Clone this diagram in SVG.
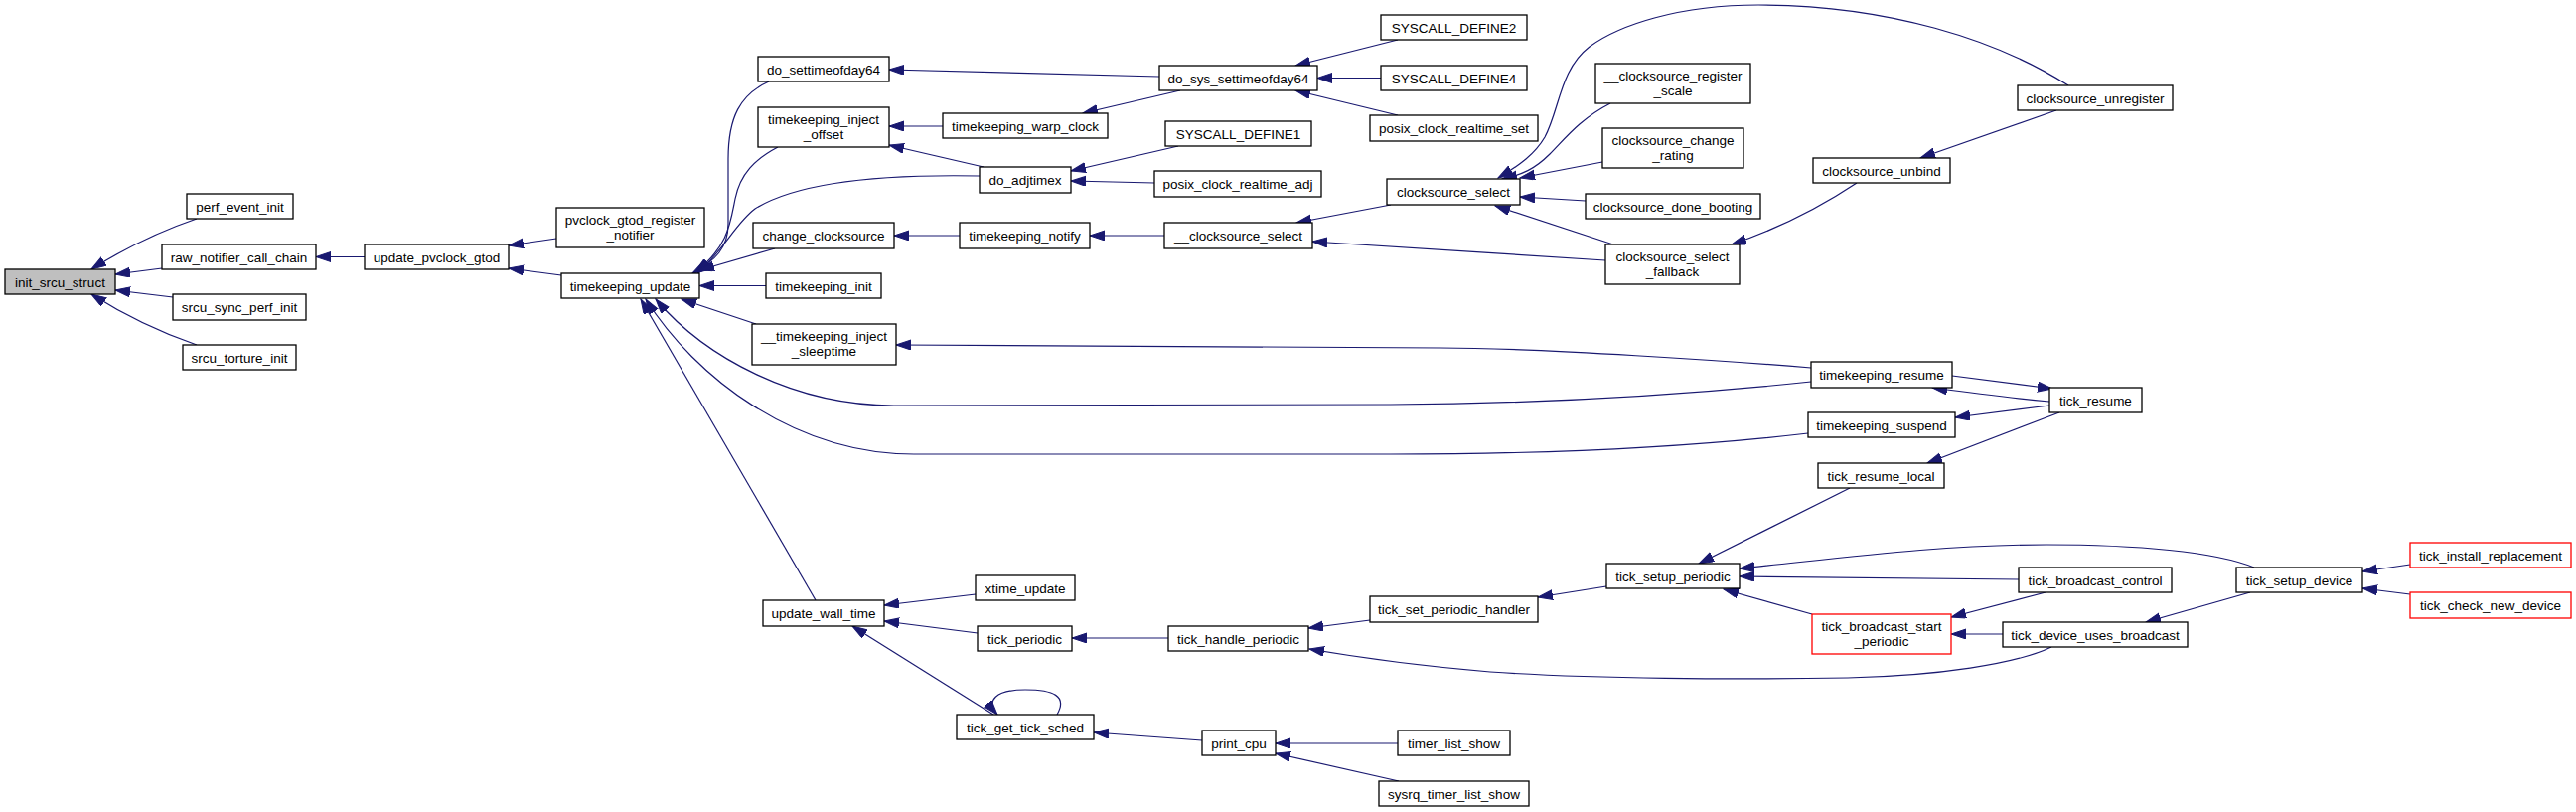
<svg xmlns="http://www.w3.org/2000/svg" width="2593" height="817" viewBox="0 0 2593 817">
<style>
rect{fill:#fff;stroke:#000;stroke-width:1.3}
.g rect{fill:#bfbfbf}
.r rect{stroke:#ff0000}
text{font-family:"Liberation Sans",Arial,sans-serif;font-size:13.5px;text-anchor:middle;fill:#000}
#edges path{fill:none;stroke:#191970;stroke-width:1.2;marker-end:url(#a)}
</style>
<defs>
<marker id="a" markerUnits="userSpaceOnUse" markerWidth="16" markerHeight="11" refX="15" refY="5" orient="auto">
<path d="M0,0 L15,5 L0,10 z" fill="#191970" stroke="#191970"/>
</marker>
</defs>
<rect x="0" y="0" width="2593" height="817" style="fill:#fff;stroke:none"/>
<g id="edges">
<path d="M198,220 C160,233 122,252 92,271"/>
<path d="M163,270 L116,276"/>
<path d="M174,299 L116,292"/>
<path d="M198,347 C160,334 122,315 92,296"/>
<path d="M367,258.5 L318,258.5"/>
<path d="M560,240 L512,247"/>
<path d="M565,277 L512,270"/>
<path d="M774,82 C745,95 733,118 733,160 L733,225 C733,250 720,262 697,275"/>
<path d="M783,148 C760,160 745,175 740,200 C735,225 733,248 700,274"/>
<path d="M986,177 C880,175 800,185 760,210 C740,225 730,250 702,275"/>
<path d="M780,250 L704,272"/>
<path d="M771,287.5 L704,287.5"/>
<path d="M761,326 L686,301"/>
<path d="M1823,384 C1700,397 1550,406 1400,407 L900,408 C800,408 710,360 660,301"/>
<path d="M1820,436 C1700,450 1550,457 1400,457 L920,457 C800,457 700,380 650,301"/>
<path d="M821,604 L645,301"/>
<path d="M1167,77 L895,70"/>
<path d="M949,127 L895,127"/>
<path d="M990,168 L895,146"/>
<path d="M1188,91 L1090,114"/>
<path d="M1407,40 L1304,66"/>
<path d="M1390,78.5 L1326,78.5"/>
<path d="M1407,116 L1304,91"/>
<path d="M1186,147 L1078,172"/>
<path d="M1162,184 L1078,182"/>
<path d="M966,237 L900,237"/>
<path d="M1172,237 L1097,237"/>
<path d="M1400,206 L1305,224"/>
<path d="M1616,262 L1321,243"/>
<path d="M2082,86 C2010,40 1900,5 1770,5 C1690,5 1630,25 1600,47 C1570,70 1570,110 1555,138 C1545,155 1530,166 1508,179"/>
<path d="M1621,104 C1590,120 1575,140 1560,155 C1545,170 1532,176 1512,180"/>
<path d="M1613,163 L1530,179"/>
<path d="M1596,202 L1530,198"/>
<path d="M1624,246 L1505,207"/>
<path d="M1869,184 C1830,210 1790,230 1743,246"/>
<path d="M2070,111 L1933,159"/>
<path d="M1823,370 C1750,364 1550,350 1450,350 L902,347"/>
<path d="M1965,378 L2066,391"/>
<path d="M2063,404 C2020,400 1990,396 1945,390"/>
<path d="M2063,408 L1968,420"/>
<path d="M2073,415 L1940,466"/>
<path d="M1862,491 L1710,567"/>
<path d="M2269,571 C2230,555 2150,548 2060,548 C1950,548 1850,562 1751,572"/>
<path d="M2032,583 L1751,580"/>
<path d="M1824,618 L1735,593"/>
<path d="M2059,596 L1964,621"/>
<path d="M2016,638 L1964,638"/>
<path d="M2265,596 L2160,626"/>
<path d="M2426,568 L2378,575"/>
<path d="M2426,598 L2378,592"/>
<path d="M2065,651 C2030,668 1950,680 1860,682 C1750,684 1600,683 1500,676 C1430,670 1370,662 1318,653"/>
<path d="M1617,590 L1548,601"/>
<path d="M1379,624 L1317,632"/>
<path d="M1176,642 L1079,642"/>
<path d="M982,598 L890,609"/>
<path d="M984,637 L890,625"/>
<path d="M1000,719 L858,630"/>
<path d="M1064,719 C1075,700 1060,694 1032,694 C1002,694 992,705 1004,719"/>
<path d="M1210,745 L1101,737"/>
<path d="M1407,748 L1284,748"/>
<path d="M1408,786 L1284,758"/>
</g>
<g id="init_srcu_struct" class="g"><rect x="5" y="271" width="111" height="25"/><text x="60.5" y="288.5">init_srcu_struct</text></g>
<g id="perf_event_init"><rect x="188" y="195" width="107" height="25"/><text x="241.5" y="212.5">perf_event_init</text></g>
<g id="raw_notifier_call_chain"><rect x="163" y="246" width="155" height="25"/><text x="240.5" y="263.5">raw_notifier_call_chain</text></g>
<g id="srcu_sync_perf_init"><rect x="174" y="296" width="134" height="26"/><text x="241" y="314">srcu_sync_perf_init</text></g>
<g id="srcu_torture_init"><rect x="184" y="347" width="114" height="25"/><text x="241" y="364.5">srcu_torture_init</text></g>
<g id="update_pvclock_gtod"><rect x="367" y="246" width="145" height="25"/><text x="439.5" y="263.5">update_pvclock_gtod</text></g>
<g id="pvclock_gtod_register_notifier"><rect x="560" y="209" width="149" height="40"/><text x="634.5" y="226">pvclock_gtod_register</text><text x="634.5" y="241">_notifier</text></g>
<g id="timekeeping_update"><rect x="565" y="275" width="139" height="25"/><text x="634.5" y="292.5">timekeeping_update</text></g>
<g id="do_settimeofday64"><rect x="763" y="57" width="132" height="25"/><text x="829" y="74.5">do_settimeofday64</text></g>
<g id="timekeeping_inject_offset"><rect x="763" y="108" width="132" height="40"/><text x="829" y="125">timekeeping_inject</text><text x="829" y="140">_offset</text></g>
<g id="timekeeping_warp_clock"><rect x="949" y="114" width="166" height="25"/><text x="1032" y="131.5">timekeeping_warp_clock</text></g>
<g id="do_adjtimex"><rect x="986" y="168" width="92" height="26"/><text x="1032" y="186">do_adjtimex</text></g>
<g id="change_clocksource"><rect x="758" y="224" width="142" height="26"/><text x="829" y="242">change_clocksource</text></g>
<g id="timekeeping_notify"><rect x="966" y="224" width="131" height="26"/><text x="1031.5" y="242">timekeeping_notify</text></g>
<g id="timekeeping_init"><rect x="771" y="275" width="116" height="25"/><text x="829" y="292.5">timekeeping_init</text></g>
<g id="__timekeeping_inject_sleeptime"><rect x="757" y="326" width="145" height="41"/><text x="829.5" y="343">__timekeeping_inject</text><text x="829.5" y="358">_sleeptime</text></g>
<g id="do_sys_settimeofday64"><rect x="1167" y="66" width="159" height="25"/><text x="1246.5" y="83.5">do_sys_settimeofday64</text></g>
<g id="SYSCALL_DEFINE2"><rect x="1390" y="15" width="147" height="25"/><text x="1463.5" y="32.5">SYSCALL_DEFINE2</text></g>
<g id="SYSCALL_DEFINE4"><rect x="1390" y="66" width="147" height="25"/><text x="1463.5" y="83.5">SYSCALL_DEFINE4</text></g>
<g id="posix_clock_realtime_set"><rect x="1379" y="116" width="169" height="26"/><text x="1463.5" y="134">posix_clock_realtime_set</text></g>
<g id="SYSCALL_DEFINE1"><rect x="1173" y="122" width="147" height="25"/><text x="1246.5" y="139.5">SYSCALL_DEFINE1</text></g>
<g id="posix_clock_realtime_adj"><rect x="1162" y="172" width="168" height="26"/><text x="1246" y="190">posix_clock_realtime_adj</text></g>
<g id="__clocksource_select"><rect x="1172" y="224" width="149" height="26"/><text x="1246.5" y="242">__clocksource_select</text></g>
<g id="clocksource_select"><rect x="1396" y="180" width="134" height="26"/><text x="1463" y="198">clocksource_select</text></g>
<g id="__clocksource_register_scale"><rect x="1606" y="64" width="156" height="40"/><text x="1684" y="81">__clocksource_register</text><text x="1684" y="96">_scale</text></g>
<g id="clocksource_change_rating"><rect x="1613" y="129" width="142" height="40"/><text x="1684" y="146">clocksource_change</text><text x="1684" y="161">_rating</text></g>
<g id="clocksource_done_booting"><rect x="1596" y="195" width="176" height="25"/><text x="1684" y="212.5">clocksource_done_booting</text></g>
<g id="clocksource_select_fallback"><rect x="1616" y="246" width="135" height="40"/><text x="1683.5" y="263">clocksource_select</text><text x="1683.5" y="278">_fallback</text></g>
<g id="clocksource_unregister"><rect x="2031" y="86" width="156" height="25"/><text x="2109" y="103.5">clocksource_unregister</text></g>
<g id="clocksource_unbind"><rect x="1825" y="159" width="138" height="25"/><text x="1894" y="176.5">clocksource_unbind</text></g>
<g id="timekeeping_resume"><rect x="1823" y="364" width="142" height="26"/><text x="1894" y="382">timekeeping_resume</text></g>
<g id="tick_resume"><rect x="2063" y="390" width="93" height="25"/><text x="2109.5" y="407.5">tick_resume</text></g>
<g id="timekeeping_suspend"><rect x="1820" y="415" width="148" height="25"/><text x="1894" y="432.5">timekeeping_suspend</text></g>
<g id="tick_resume_local"><rect x="1830" y="466" width="127" height="25"/><text x="1893.5" y="483.5">tick_resume_local</text></g>
<g id="tick_setup_periodic"><rect x="1617" y="567" width="134" height="25"/><text x="1684" y="584.5">tick_setup_periodic</text></g>
<g id="tick_broadcast_control"><rect x="2032" y="571" width="154" height="25"/><text x="2109" y="588.5">tick_broadcast_control</text></g>
<g id="tick_broadcast_start_periodic" class="r"><rect x="1824" y="618" width="140" height="40"/><text x="1894" y="635">tick_broadcast_start</text><text x="1894" y="650">_periodic</text></g>
<g id="tick_device_uses_broadcast"><rect x="2016" y="626" width="186" height="25"/><text x="2109" y="643.5">tick_device_uses_broadcast</text></g>
<g id="tick_setup_device"><rect x="2251" y="571" width="127" height="25"/><text x="2314.5" y="588.5">tick_setup_device</text></g>
<g id="tick_install_replacement" class="r"><rect x="2426" y="546" width="162" height="25"/><text x="2507" y="563.5">tick_install_replacement</text></g>
<g id="tick_check_new_device" class="r"><rect x="2426" y="596" width="162" height="26"/><text x="2507" y="614">tick_check_new_device</text></g>
<g id="update_wall_time"><rect x="768" y="604" width="122" height="26"/><text x="829" y="622">update_wall_time</text></g>
<g id="xtime_update"><rect x="982" y="579" width="100" height="25"/><text x="1032" y="596.5">xtime_update</text></g>
<g id="tick_periodic"><rect x="984" y="630" width="95" height="25"/><text x="1031.5" y="647.5">tick_periodic</text></g>
<g id="tick_handle_periodic"><rect x="1176" y="630" width="141" height="25"/><text x="1246.5" y="647.5">tick_handle_periodic</text></g>
<g id="tick_set_periodic_handler"><rect x="1379" y="600" width="169" height="26"/><text x="1463.5" y="618">tick_set_periodic_handler</text></g>
<g id="tick_get_tick_sched"><rect x="963" y="719" width="138" height="25"/><text x="1032" y="736.5">tick_get_tick_sched</text></g>
<g id="print_cpu"><rect x="1210" y="735" width="74" height="25"/><text x="1247" y="752.5">print_cpu</text></g>
<g id="timer_list_show"><rect x="1407" y="735" width="113" height="25"/><text x="1463.5" y="752.5">timer_list_show</text></g>
<g id="sysrq_timer_list_show"><rect x="1388" y="786" width="151" height="25"/><text x="1463.5" y="803.5">sysrq_timer_list_show</text></g>
</svg>
